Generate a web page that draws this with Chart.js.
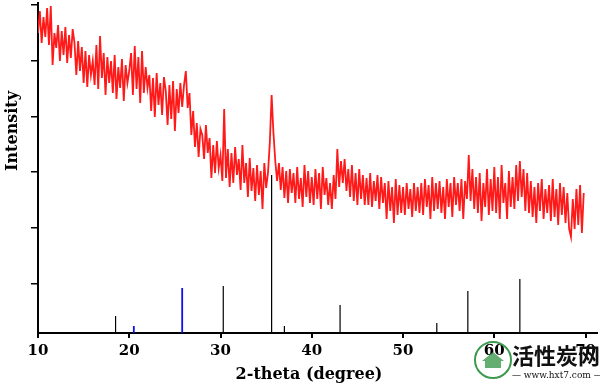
<!DOCTYPE html>
<html>
<head>
<meta charset="utf-8">
<script src="https://cdn.jsdelivr.net/npm/chart.js@4.4.1/dist/chart.umd.min.js"></script>
<style>
  html,body{margin:0;padding:0;background:#fff;}
  #wrap{width:600px;height:384px;position:relative;}
</style>
</head>
<body>
<div id="wrap"><canvas id="Grafico1"></canvas></div>
<script>
// scan grid: 10.0 -> 69.8 deg, 0.2 deg step
const startAngle = 10;
const stepAngle = 0.2;
const intensity = [
  300,322,290,316,296,325,288,327,268,300,
  285,308,272,302,278,306,270,298,275,304,
  290,258,292,262,286,250,282,246,278,258,
  272,248,288,244,297,255,280,238,276,250,
  272,240,278,234,266,245,274,232,268,250,
  262,280,238,287,244,276,230,282,240,266,
  245,258,222,255,216,260,228,250,218,256,
  242,208,248,214,252,202,244,220,250,226,
  248,262,225,240,198,222,186,210,176,204,
  198,174,208,180,195,155,188,160,192,165,
  178,152,224,155,184,146,180,150,186,158,
  174,143,188,150,170,136,175,142,165,132,
  168,138,162,124,170,145,160,190,238,200,
  172,152,170,143,166,135,162,130,164,140,
  160,130,166,134,155,126,168,136,162,130,
  156,128,164,134,160,124,166,138,155,128,
  150,124,158,134,184,146,172,150,174,142,
  164,136,168,132,160,128,164,134,158,128,
  155,128,160,126,152,132,158,124,156,130,
  150,114,152,122,146,110,154,118,148,120,
  146,118,150,124,144,116,150,122,146,120,
  150,118,154,126,148,114,156,122,150,124,
  152,120,146,114,154,126,150,116,156,128,
  150,122,154,114,152,134,178,132,164,124,
  156,120,160,112,150,126,164,118,154,122,
  166,120,156,114,168,130,150,114,162,126,
  156,124,168,132,172,136,164,122,160,120,
  152,116,146,110,150,122,154,114,144,120,
  148,112,154,116,144,108,150,118,146,110,
  140,104,96,134,104,144,108,148,100,140
];
// reference pattern sticks
const refBlackPos = [18.5, 30.3, 35.6, 37.0, 43.1, 53.7, 57.1, 62.8];
const refBlackInt = [17, 47, 158, 7, 28, 10, 42, 54];
const refBluePos = [20.5, 25.8];
const refBlueInt = [7, 45];
const xTicks = [10, 20, 30, 40, 50, 60, 70];
const yTicks = [49, 105, 161, 216, 272, 328];

let puntos = intensity.map((v, i) => ({x: startAngle + i*stepAngle, y: v}));
function palitos(pos, alto){
    let d = [];
    pos.forEach((p, i) => {
        d.push({x: p, y: 0});
        d.push({x: p, y: alto[i]});
        d.push({x: p, y: null});
    });
    return d;
}

const serif = '"DejaVu Serif", serif';

const textos = {
    id: 'textos',
    afterDraw(chart){
        const ctx = chart.ctx;
        ctx.save();
        ctx.fillStyle = '#000';
        ctx.font = 'bold 16px ' + serif;
        ctx.textAlign = 'center';
        ctx.textBaseline = 'middle';
        ctx.fillText('2-theta (degree)', 309, 375);
        ctx.translate(13, 131);
        ctx.rotate(-Math.PI/2);
        ctx.fillText('Intensity', 0, 0);
        ctx.restore();
        // watermark
        ctx.save();
        ctx.strokeStyle = '#3d9a4f';
        ctx.lineWidth = 2;
        ctx.beginPath();
        ctx.arc(493, 360, 18, 0, Math.PI*2);
        ctx.stroke();
        ctx.fillStyle = 'rgba(61,154,79,0.8)';
        ctx.beginPath();
        ctx.moveTo(482, 361); ctx.lineTo(493, 352); ctx.lineTo(504, 361);
        ctx.lineTo(501, 361); ctx.lineTo(501, 368); ctx.lineTo(485, 368); ctx.lineTo(485, 361);
        ctx.closePath();
        ctx.fill();
        ctx.fillStyle = '#111';
        ctx.font = 'bold 22px "Noto Sans CJK SC"';
        ctx.textAlign = 'left';
        ctx.textBaseline = 'middle';
        ctx.fillText('活性炭网', 512, 356);
        ctx.font = '9px ' + serif;
        ctx.fillText('— www.hxt7.com —', 512, 376);
        ctx.restore();
    }
};

let G1 = new Chart(document.getElementById('Grafico1').getContext('2d'), {
    type: 'line',
    data: {
        datasets: [
            {
                data: puntos,
                borderColor: '#ff1a1a',
                borderWidth: 1.8,
                pointRadius: 0,
                tension: 0,
                order: 0,
            },
            {
                data: palitos(refBlackPos, refBlackInt),
                borderColor: '#000',
                borderWidth: 1.2,
                pointRadius: 0,
                spanGaps: false,
                order: 1,
            },
            {
                data: palitos(refBluePos, refBlueInt),
                borderColor: '#1010ee',
                borderWidth: 1.8,
                pointRadius: 0,
                spanGaps: false,
                order: 1,
            },
        ]
    },
    options: {
        responsive: true,
        maintainAspectRatio: false,
        animation: false,
        layout: {padding: {top: 3, right: 0, left: 0, bottom: 0}},
        plugins: {legend: {display: false}, tooltip: {enabled: false}},
        scales: {
            x: {
                type: 'linear',
                min: 10,
                max: 71.2,
                afterBuildTicks: s => { s.ticks = xTicks.map(v => ({value: v})); },
                afterFit: s => { s.height = 51; },
                border: {color: '#000', width: 2},
                grid: {drawOnChartArea: false, drawTicks: true, tickLength: 5, color: '#000', lineWidth: 2},
                ticks: {color: '#000', padding: 4, font: {family: serif, size: 15, weight: 'bold'}, maxRotation: 0},
            },
            y: {
                min: 0,
                max: 330,
                afterBuildTicks: s => { s.ticks = yTicks.map(v => ({value: v})); },
                afterFit: s => { s.width = 38; },
                border: {color: '#000', width: 2},
                grid: {drawOnChartArea: false, drawTicks: true, tickLength: 7, color: '#000', lineWidth: 1.5},
                ticks: {display: false},
            }
        }
    },
    plugins: [textos]
});
</script>
</body>
</html>
